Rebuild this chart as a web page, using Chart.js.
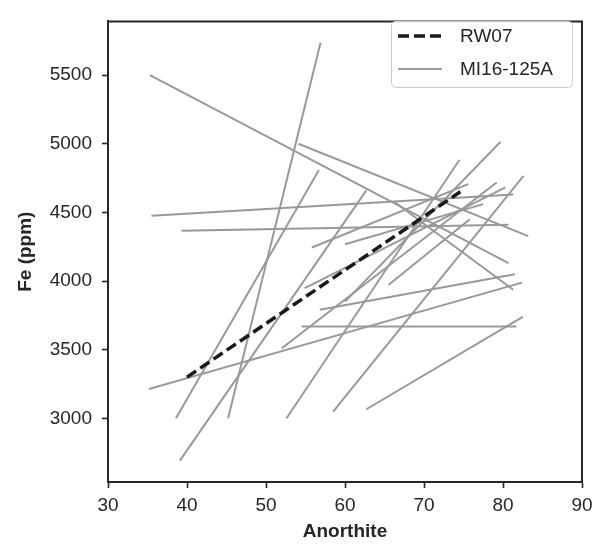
<!DOCTYPE html>
<html>
<head>
<meta charset="utf-8">
<script src="https://cdn.jsdelivr.net/npm/chart.js@4"></script>
<style>
  html, body { margin: 0; padding: 0; background: #fff; }
</style>
</head>
<body>
<canvas id="feChart" width="603" height="545"></canvas>
<script>
// RW07 model curve
const rw07X = [40.0, 74.6];
const rw07Y = [3300, 4650];

// MI16-125A segments: start (x0, y0) and end (x1, y1)
const segX0 = [35.3, 54.1, 35.5, 39.3, 45.2, 38.6, 39.1, 35.2, 52.6, 58.5, 62.7, 54.5, 56.8, 52.0, 55.8, 54.9, 60.0, 65.5, 66.3, 60.0];
const segY0 = [5500, 5000, 4476, 4367, 3000, 3000, 2692, 3213, 3000, 3048, 3066, 3668, 3790, 3510, 4244, 3948, 4268, 3971, 4574, 3850];
const segX1 = [80.7, 83.2, 81.3, 80.7, 56.9, 56.7, 62.7, 82.4, 74.5, 82.6, 82.5, 81.7, 81.5, 79.2, 75.6, 80.3, 77.5, 75.8, 81.3, 79.7];
const segY1 = [4130, 4327, 4630, 4410, 5736, 4808, 4660, 3988, 4883, 4765, 3739, 3668, 4050, 4718, 4706, 4682, 4560, 4450, 3936, 5014];

const xTicks = [30, 40, 50, 60, 70, 80, 90];
const yTicks = [3000, 3500, 4000, 4500, 5000, 5500];

const GRAY = '#999999';
const INK = '#262626';

Chart.defaults.font.family = "'Liberation Sans', Arial, sans-serif";
Chart.defaults.font.size = 19;
Chart.defaults.color = INK;

const datasets = [{
    label: 'RW07',
    data: rw07X.map((x, i) => ({x: x, y: rw07Y[i]})),
    showLine: true,
    borderColor: '#1a1a1a',
    borderWidth: 3.5,
    borderDash: [11, 5],
    pointRadius: 0
}];
segX0.forEach((x0, i) => {
    datasets.push({
        label: 'MI16-125A',
        data: [{x: x0, y: segY0[i]}, {x: segX1[i], y: segY1[i]}],
        showLine: true,
        borderColor: GRAY,
        borderWidth: 2,
        pointRadius: 0
    });
});

// box around the plot + matplotlib-like legend
const framePlugin = {
    id: 'frame',
    afterDatasetsDraw(chart) {
        const {ctx, chartArea: a} = chart;
        ctx.save();
        ctx.strokeStyle = INK;
        ctx.lineWidth = 2;
        ctx.beginPath();
        ctx.moveTo(a.left, a.top);
        ctx.lineTo(a.right, a.top);
        ctx.lineTo(a.right, a.bottom);
        ctx.stroke();

        // legend
        const bx = 391, by = 21, bw = 181, bh = 66;
        ctx.fillStyle = 'rgba(255,255,255,0.85)';
        ctx.strokeStyle = '#cccccc';
        ctx.lineWidth = 1;
        ctx.beginPath();
        ctx.roundRect(bx + 0.5, by + 0.5, bw, bh, 4);
        ctx.fill();
        ctx.stroke();

        ctx.lineWidth = 3.5;
        ctx.strokeStyle = '#1a1a1a';
        ctx.setLineDash([11, 5]);
        ctx.beginPath();
        ctx.moveTo(398, 36);
        ctx.lineTo(442, 36);
        ctx.stroke();
        ctx.setLineDash([]);
        ctx.lineWidth = 2;
        ctx.strokeStyle = GRAY;
        ctx.beginPath();
        ctx.moveTo(398, 69);
        ctx.lineTo(442, 69);
        ctx.stroke();

        ctx.fillStyle = INK;
        ctx.font = "19px 'Liberation Sans', Arial, sans-serif";
        ctx.textBaseline = 'middle';
        ctx.fillText('RW07', 460, 37);
        ctx.fillText('MI16-125A', 460, 70);
        ctx.restore();
    }
};

new Chart(document.getElementById('feChart').getContext('2d'), {
    type: 'scatter',
    data: { datasets: datasets },
    options: {
        responsive: false,
        animation: false,
        layout: { padding: { top: 10, right: 21, left: 0, bottom: 0 } },
        plugins: {
            legend: { display: false },
            tooltip: { enabled: false }
        },
        scales: {
            x: {
                type: 'linear',
                min: 30,
                max: 90,
                afterBuildTicks: s => { s.ticks = xTicks.map(v => ({value: v})); },
                afterFit: s => { s.height = 63; },
                grid: { drawOnChartArea: false, tickLength: 6, tickWidth: 1.6, tickColor: INK },
                border: { color: INK, width: 2 },
                ticks: { padding: 6, color: INK, callback: v => String(v) },
                title: { display: true, text: 'Anorthite', font: { weight: 'bold', size: 19 }, padding: { bottom: 2 }, color: INK }
            },
            y: {
                type: 'linear',
                min: 2536,
                max: 5891,
                afterBuildTicks: s => { s.ticks = yTicks.map(v => ({value: v})); },
                afterFit: s => { s.width = 108; },
                grid: { drawOnChartArea: false, tickLength: 6, tickWidth: 1.6, tickColor: INK },
                border: { color: INK, width: 2 },
                ticks: { padding: 10, color: INK, callback: v => String(v) },
                title: { display: true, text: 'Fe (ppm)', font: { weight: 'bold', size: 19 }, padding: { top: 14 }, color: INK }
            }
        }
    },
    plugins: [framePlugin]
});
</script>
</body>
</html>
